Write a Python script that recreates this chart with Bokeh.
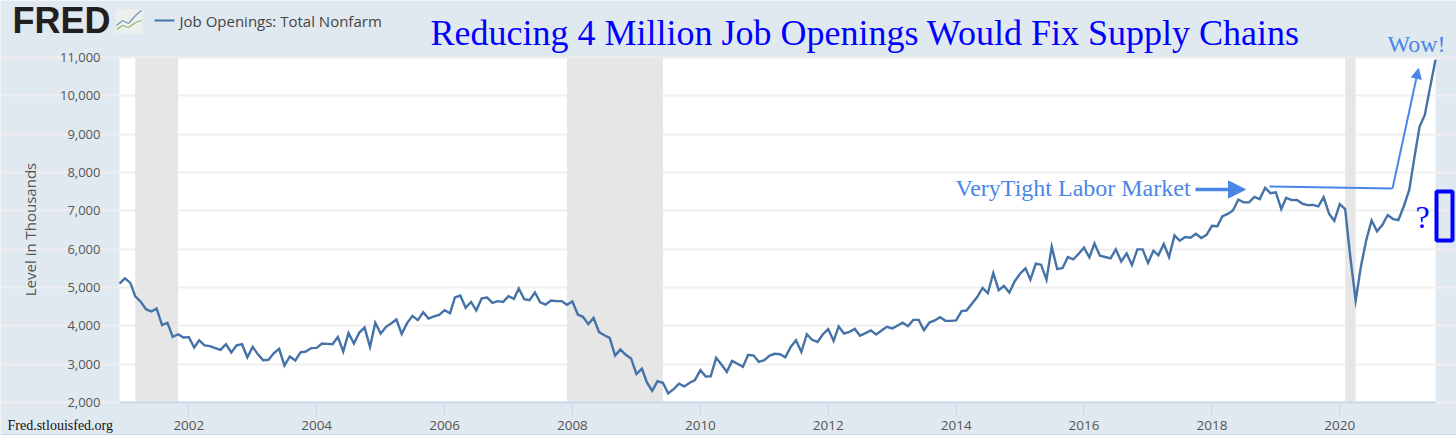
import math
import pandas as pd
from bokeh.plotting import figure
from bokeh.embed import file_html
from bokeh.resources import INLINE
from bokeh.models import (Range1d, FixedTicker, NumeralTickFormatter, Label, Arrow, NormalHead,
                          BoxAnnotation, DatetimeTickFormatter)

job_openings = [
 5100,5240,5120,4770,4630,4435,4375,4450,4020,4080,3710,3780,3695,3705,3435,3620,3490,3470,3420,3375,
 3520,3305,3490,3520,3175,3450,3250,3105,3115,3285,3400,2965,3200,3095,3310,3330,3420,3425,3540,3530,
 3520,3710,3330,3815,3540,3825,3955,3445,4080,3800,3975,4060,4165,3790,4070,4260,4150,4355,4190,4245,
 4285,4410,4330,4740,4790,4470,4625,4400,4720,4740,4600,4645,4625,4775,4705,4975,4695,4670,4870,4615,
 4555,4660,4645,4645,4550,4635,4295,4235,4045,4210,3835,3755,3685,3225,3380,3245,3150,2740,2880,2530,
 2305,2555,2515,2235,2350,2490,2420,2515,2585,2845,2680,2685,3165,2990,2800,3085,3010,2930,3245,3225,
 3060,3105,3225,3270,3260,3180,3450,3625,3320,3780,3635,3580,3775,3915,3610,3985,3800,3845,3920,3740,
 3810,3880,3775,3880,3975,3930,4010,4080,3990,4155,4155,3885,4085,4140,4225,4130,4130,4140,4385,4400,
 4575,4750,4990,4850,5380,4930,5040,4870,5160,5360,5500,5205,5620,5595,5205,6065,5480,5510,5795,5735,
 5875,6040,5785,6150,5830,5795,5760,5995,5680,5890,5585,5995,5995,5640,5960,5840,6135,5795,6360,6220,
 6315,6300,6400,6290,6375,6610,6600,6855,6920,7010,7295,7225,7220,7365,7305,7600,7460,7485,7045,7340,
 7280,7285,7190,7150,7155,7115,7355,6925,6740,7175,7045,5810,4660,5550,6245,6750,6465,6635,6890,6785,
 6760,7120,7545,8350,9200,9500,10240,10940]
dates = pd.date_range("2000-12-01", periods=len(job_openings), freq="MS")

recession_start = pd.to_datetime(["2001-03-01", "2007-12-01", "2020-02-01"])
recession_end = pd.to_datetime(["2001-11-01", "2009-06-01", "2020-04-01"])
year_ticks = [2002, 2004, 2006, 2008, 2010, 2012, 2014, 2016, 2018, 2020]
y_ticks = [2000, 3000, 4000, 5000, 6000, 7000, 8000, 9000, 10000, 11000]

BG = "#e1e9f0"
LINE = "#4572a7"
AXIS = "#ccd6eb"
GREY = "#555555"
BLUE = "#0000ff"
NOTE = "#4a86e8"

# The frame fills the page, so that notes can lie outside the white plot area.
W, H = 1456, 435
PLOT_L, PLOT_R, PLOT_T, PLOT_B = 119, 1435, 57, 402
t0, t1 = dates[0].timestamp() * 1000, dates[-1].timestamp() * 1000
ms_per_px = (t1 - t0) / (PLOT_R - PLOT_L)
val_per_px = (y_ticks[-1] - y_ticks[0]) / (PLOT_B - PLOT_T)

p = figure(width=W, height=H, x_axis_type="datetime", output_backend="svg", toolbar_location=None,
           x_range=Range1d(t0 - PLOT_L * ms_per_px, t1 + (W - PLOT_R) * ms_per_px),
           y_range=Range1d(y_ticks[0] - (H - PLOT_B) * val_per_px, y_ticks[-1] + PLOT_T * val_per_px),
           min_border=0, background_fill_color=BG, border_fill_color=BG, outline_line_color=None)

p.xgrid.visible = False
p.ygrid.grid_line_color = "#efefef"
p.ygrid.grid_line_width = 2
p.ygrid.ticker = FixedTicker(ticks=y_ticks)
p.ygrid.bounds = (t0, t1)

ax = p.xaxis[0]
ax.fixed_location = y_ticks[0]
ax.bounds = (t0, t1)
ax.ticker = FixedTicker(ticks=[pd.Timestamp(f"{y}-01-01").timestamp() * 1000 for y in year_ticks])
ax.formatter = DatetimeTickFormatter(years="%Y", months="%Y", days="%Y", hours="%Y", minutes="%Y", seconds="%Y", milliseconds="%Y")
ax.axis_line_color = AXIS
ax.axis_line_width = 2
ax.major_tick_line_color = AXIS
ax.major_tick_out = 12
ax.major_tick_in = 0
ax.minor_tick_line_color = None
ax.major_label_standoff = 6
ax.major_label_text_font = "Open Sans"
ax.major_label_text_font_size = "13.5px"
ax.major_label_text_color = GREY

ay = p.yaxis[0]
ay.fixed_location = t0
ay.ticker = FixedTicker(ticks=y_ticks)
ay.formatter = NumeralTickFormatter(format="0,0")
ay.axis_line_color = None
ay.major_tick_line_color = None
ay.minor_tick_line_color = None
ay.major_label_standoff = 13
ay.major_label_text_font = "Open Sans"
ay.major_label_text_font_size = "13px"
ay.major_label_text_color = GREY

p.quad(left=[t0], right=[t1], bottom=[y_ticks[0]], top=[y_ticks[-1]], fill_color="white", line_color=None, level="image")
p.quad(left=recession_start, right=recession_end, bottom=y_ticks[0], top=y_ticks[-1], fill_color="#e6e6e6", line_color=None)
p.line(dates, job_openings, line_color=LINE, line_width=2.4, line_join="miter")


# Notes are placed in page pixels; y is the wanted baseline
def note(text, x, y, font, size, color, style="normal", angle=0.0, align="left"):
    lift = 0.0 if angle else 0.36 * size
    p.add_layout(Label(x=x, y=y - lift, x_units="canvas", y_units="canvas", text=text, text_font=font,
                       text_font_size=f"{size}px", text_color=color, text_font_style=style,
                       text_baseline="alphabetic", text_align=align, angle=angle))


def seg(x0, y0, x1, y1, color, width, head=None):
    p.add_layout(Arrow(x_start=x0, y_start=y0, x_end=x1, y_end=y1, start_units="canvas", end_units="canvas",
                       start=None, end=head, line_color=color, line_width=width))


def box(l, r, t, b, **kw):
    p.add_layout(BoxAnnotation(left=l, right=r, top=t, bottom=b, left_units="canvas", right_units="canvas",
                               top_units="canvas", bottom_units="canvas", **kw))


note("Reducing 4 Million Job Openings Would Fix Supply Chains", 430, 45, "Liberation Serif", 36, BLUE)
note("VeryTight Labor Market", 955, 196, "Liberation Serif", 24, NOTE)
note("Wow!", 1387, 52, "Liberation Serif", 24, NOTE)
note("?", 1415, 228, "Liberation Serif", 32, BLUE)
note("Fred.stlouisfed.org", 7, 430, "Liberation Serif", 14, "#111111")
note("FRED", 12, 33, "Liberation Sans", 36, "#231f20", "bold")
note("Job Openings: Total Nonfarm", 179, 26, "Open Sans", 15, "#444444")
note("Level in Thousands", 29, 229, "Open Sans", 15, GREY, angle=math.pi / 2, align="center")

box(154, 174, 19, 21, fill_color=LINE, fill_alpha=1, line_color=None)
seg(1195, 189, 1245, 189, NOTE, 3.5, NormalHead(size=17, fill_color=NOTE, line_color=NOTE, line_width=1))
seg(1269, 186, 1392, 188, NOTE, 2)
seg(1392, 188, 1418, 68, NOTE, 2, NormalHead(size=10, fill_color=NOTE, line_color=NOTE, line_width=1))

box(1436, 1452, 191, 240, fill_alpha=0, line_color=BLUE, line_alpha=1, line_width=4)

# small FRED chart icon
box(115, 142, 9, 33, fill_color="#eef0ee", fill_alpha=1, line_color=None)
seg(116, 25, 122, 20, "#6f93bd", 1.2); seg(122, 20, 128, 23, "#6f93bd", 1.2)
seg(128, 23, 135, 15, "#6f93bd", 1.2); seg(135, 15, 141, 10, "#6f93bd", 1.2)
seg(116, 29, 122, 25, "#8fb56e", 1.2); seg(122, 25, 128, 27, "#8fb56e", 1.2)
seg(128, 27, 135, 22, "#8fb56e", 1.2); seg(135, 22, 141, 20, "#8fb56e", 1.2)

box(0, 1456, 433.5, 435, fill_color=AXIS, fill_alpha=1, line_color=None)

open("out.html", "w").write(file_html(p, INLINE))
